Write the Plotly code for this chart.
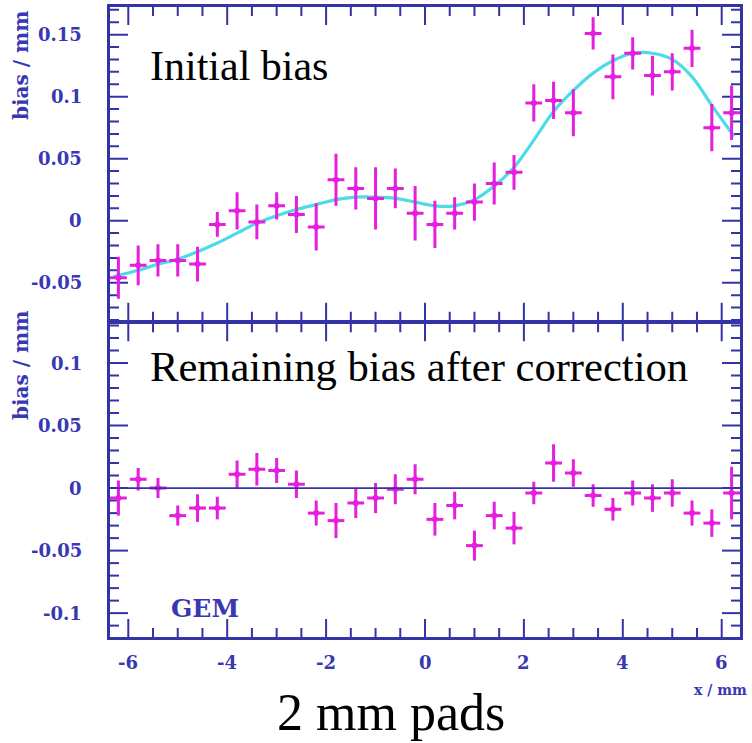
import plotly.graph_objects as go

# ---------------- data ----------------
x_pts = [-6.2, -5.8, -5.4, -5.0, -4.6, -4.2, -3.8, -3.4, -3.0, -2.6, -2.2, -1.8,
         -1.4, -1.0, -0.6, -0.2, 0.2, 0.6, 1.0, 1.4, 1.8, 2.2, 2.6, 3.0,
         3.4, 3.8, 4.2, 4.6, 5.0, 5.4, 5.8, 6.2]

initial_bias = [-0.046, -0.036, -0.032, -0.032, -0.035, -0.003, 0.008, -0.001,
                0.012, 0.005, -0.005, 0.033, 0.026, 0.018, 0.026, 0.006,
                -0.003, 0.006, 0.015, 0.030, 0.039, 0.095, 0.097, 0.087,
                0.151, 0.116, 0.135, 0.117, 0.120, 0.139, 0.075, 0.087]
initial_err = [0.017, 0.016, 0.013, 0.013, 0.014, 0.010, 0.015, 0.014,
               0.011, 0.015, 0.019, 0.021, 0.017, 0.025, 0.016, 0.022,
               0.019, 0.013, 0.015, 0.017, 0.014, 0.015, 0.015, 0.019,
               0.013, 0.018, 0.013, 0.016, 0.015, 0.015, 0.019, 0.022]

remaining_bias = [-0.008, 0.007, 0.000, -0.022, -0.016, -0.016, 0.011, 0.015,
                  0.014, 0.003, -0.020, -0.026, -0.012, -0.008, -0.001, 0.007,
                  -0.025, -0.014, -0.046, -0.022, -0.032, -0.004, 0.020, 0.012,
                  -0.006, -0.017, -0.004, -0.008, -0.004, -0.020, -0.028, -0.004]
remaining_err = [0.014, 0.009, 0.008, 0.008, 0.011, 0.009, 0.011, 0.013,
                 0.010, 0.011, 0.010, 0.014, 0.012, 0.012, 0.012, 0.012,
                 0.013, 0.011, 0.012, 0.011, 0.013, 0.009, 0.015, 0.011,
                 0.009, 0.009, 0.010, 0.011, 0.011, 0.010, 0.011, 0.021]
x_halfwidth = 0.17

fit_x = [-6.3, -5.8, -5.4, -5.0, -4.6, -4.2, -3.8, -3.4, -3.0, -2.6, -2.2, -1.8,
         -1.4, -1.0, -0.6, -0.2, 0.2, 0.6, 1.0, 1.4, 1.8, 2.2, 2.6, 3.0,
         3.4, 3.8, 4.2, 4.6, 5.0, 5.4, 5.8, 6.25]
fit_y = [-0.045, -0.040, -0.035, -0.031, -0.025, -0.018, -0.010, -0.002,
         0.004, 0.009, 0.013, 0.017, 0.019, 0.019, 0.018, 0.015,
         0.012, 0.012, 0.017, 0.028, 0.043, 0.065, 0.088, 0.105,
         0.119, 0.129, 0.135, 0.135, 0.130, 0.116, 0.093, 0.068]

x_tickvals = [-6, -4, -2, 0, 2, 4, 6]
x_ticktext = ["-6", "-4", "-2", "0", "2", "4", "6"]
y1_tickvals = [-0.05, 0, 0.05, 0.1, 0.15]
y1_ticktext = ["-0.05", "0", "0.05", "0.1", "0.15"]
y2_tickvals = [-0.1, -0.05, 0, 0.05, 0.1]
y2_ticktext = ["-0.1", "-0.05", "0", "0.05", "0.1"]

x_range = [-6.37, 6.37]
y1_range = [-0.0807, 0.1723]
y2_range = [-0.1191, 0.1319]

# ---------------- style ----------------
W, H = 752, 743
AX = "#3434a6"
LBL = "#3838b4"
MAG = "#e61ede"
CYAN = "#4ddbe6"
tick_font = dict(family="DejaVu Serif", size=18, color=LBL)
MAJ, MIN = 18, 9          # tick lengths in px
PLOT_W = 630.0            # plot width in px
PANEL_H = 313.8           # panel height in px

def px_x(p):
    return p / W

def px_y(p):
    return (H - p) / H

def bold(s):
    return "<b>" + s + "</b>"

fig = go.Figure()

# ---- tick marks, drawn as line segments along the frame of each panel ----
x_minor = [m + k * 0.5 for m in x_tickvals[:-1] for k in (1, 2, 3)]
x_all = [(v, MAJ) for v in x_tickvals] + [(v, MIN) for v in x_minor]
for xa, ya, yr in (("x", "y", y1_range), ("x2", "y2", y2_range)):
    per_px_y = (yr[1] - yr[0]) / PANEL_H
    per_px_x = (x_range[1] - x_range[0]) / PLOT_W
    tx, ty = [], []
    for v, ln in x_all:
        tx += [v, v, None, v, v, None]
        ty += [yr[0], yr[0] + ln * per_px_y, None, yr[1], yr[1] - ln * per_px_y, None]
    for k in range(int(yr[0] * 100) - 1, int(yr[1] * 100) + 2):
        v = k / 100
        if v < yr[0] or v > yr[1]:
            continue
        ln = MAJ if k % 5 == 0 else MIN
        tx += [x_range[0], x_range[0] + ln * per_px_x, None,
               x_range[1], x_range[1] - ln * per_px_x, None]
        ty += [v, v, None, v, v, None]
    fig.add_trace(go.Scatter(x=tx, y=ty, mode="lines", xaxis=xa, yaxis=ya,
                             line=dict(color=AX, width=2), hoverinfo="skip",
                             connectgaps=False))

fig.add_trace(go.Scatter(x=fit_x, y=fit_y, mode="lines",
                         line=dict(color=CYAN, width=3.2, shape="spline", smoothing=1.0),
                         xaxis="x", yaxis="y", hoverinfo="skip"))

for xs, ys, es, xa, ya in [(x_pts, initial_bias, initial_err, "x", "y"),
                           (x_pts, remaining_bias, remaining_err, "x2", "y2")]:
    fig.add_trace(go.Scatter(
        x=xs, y=ys, mode="markers", xaxis=xa, yaxis=ya,
        marker=dict(color=MAG, size=6, symbol="circle"),
        error_y=dict(type="data", array=es, color=MAG, thickness=3, width=0),
        error_x=dict(type="constant", value=x_halfwidth, color=MAG, thickness=3, width=0),
    ))

xdom = [px_x(110), px_x(740)]
base = dict(showline=True, linecolor=AX, linewidth=2.5, showgrid=False, zeroline=False,
            mirror=True, showticklabels=False, ticks="")

fig.update_layout(
    width=W, height=H, margin=dict(l=0, r=0, t=0, b=0),
    paper_bgcolor="white", plot_bgcolor="white", showlegend=False,
    xaxis=dict(**base, anchor="y", domain=xdom, range=x_range),
    yaxis=dict(**base, anchor="x", domain=[px_y(320.8), px_y(7)], range=y1_range),
    xaxis2=dict(**base, anchor="y2", domain=xdom, range=x_range),
    yaxis2=dict(**base, anchor="x2", domain=[px_y(637), px_y(323.2)], range=y2_range),
    shapes=[dict(type="line", xref="x2 domain", yref="y2", x0=0, x1=1, y0=0, y1=0,
                 line=dict(color=AX, width=1.8), layer="above")],
)

# ---- tick labels ----
for v, t in zip(x_tickvals, x_ticktext):
    fig.add_annotation(text=bold(t), x=v, xref="x2", y=px_y(662), yref="paper",
                       xanchor="center", yanchor="middle", showarrow=False, font=tick_font)
for v, t in zip(y1_tickvals, y1_ticktext):
    fig.add_annotation(text=bold(t), y=v, yref="y", x=px_x(84), xref="paper",
                       xanchor="right", yanchor="middle", showarrow=False, font=tick_font)
for v, t in zip(y2_tickvals, y2_ticktext):
    fig.add_annotation(text=bold(t), y=v, yref="y2", x=px_x(84), xref="paper",
                       xanchor="right", yanchor="middle", showarrow=False, font=tick_font)

serif = "Liberation Serif"
blue_font = dict(family="DejaVu Serif", color=LBL)
annos = [
    dict(text="Initial bias", x=px_x(148), y=px_y(66), xanchor="left", yanchor="middle",
         font=dict(family=serif, size=42, color="black")),
    dict(text="Remaining bias after correction", x=px_x(148), y=px_y(367), xanchor="left",
         yanchor="middle", font=dict(family=serif, size=42.6, color="black")),
    dict(text="2 mm pads", x=px_x(391), y=px_y(712), xanchor="center", yanchor="middle",
         font=dict(family=serif, size=52, color="black")),
    dict(text=bold("x / mm"), x=px_x(749), y=px_y(690), xanchor="right", yanchor="middle",
         font=dict(**blue_font, size=14)),
    dict(text=bold("GEM"), x=px_x(205), y=px_y(608), xanchor="center", yanchor="middle",
         font=dict(**blue_font, size=25)),
    dict(text=bold("bias / mm"), x=px_x(21), y=px_y(66), xanchor="center", yanchor="middle",
         textangle=-90, font=dict(**blue_font, size=20)),
    dict(text=bold("bias / mm"), x=px_x(21), y=px_y(366), xanchor="center", yanchor="middle",
         textangle=-90, font=dict(**blue_font, size=20)),
]
for a in annos:
    fig.add_annotation(xref="paper", yref="paper", showarrow=False, **a)

fig.write_html("out.html")
